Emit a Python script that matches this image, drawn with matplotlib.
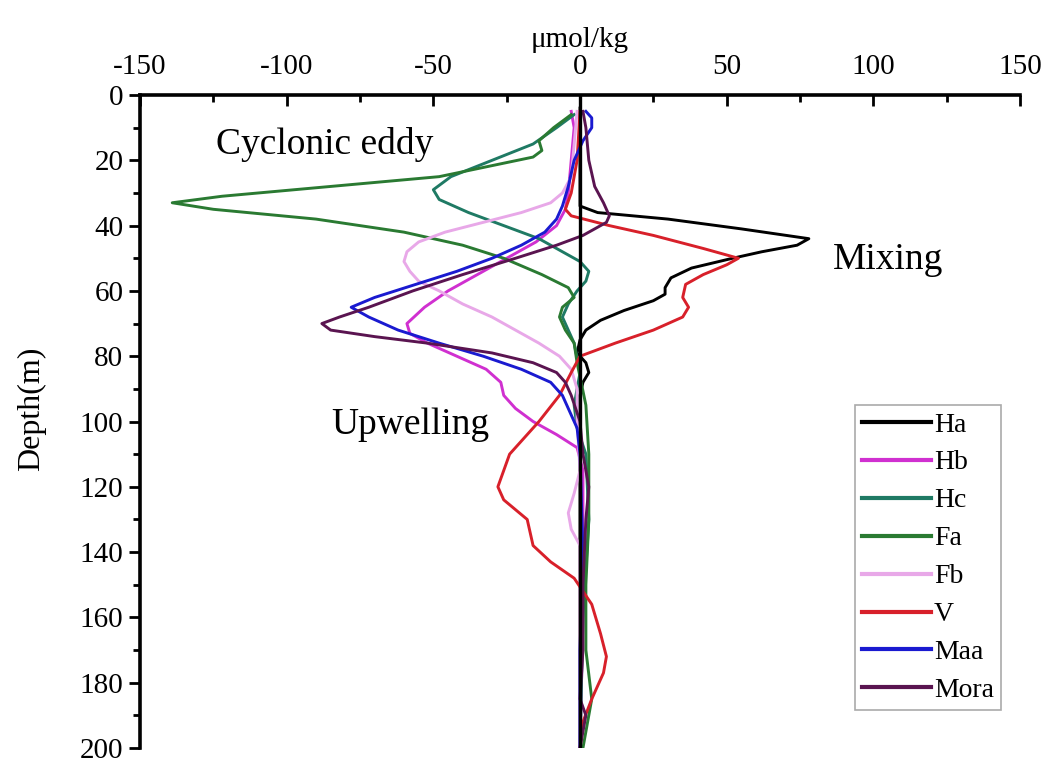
import numpy as np
import matplotlib.pyplot as plt
from matplotlib.ticker import MultipleLocator

# 深度 (m) 与各站位数值 (μmol/kg)，读图估计
ha_d = [4, 15, 25, 34, 36, 38, 41, 44, 46, 48, 50, 53, 56, 59, 61, 63, 66, 69, 72, 75, 79, 82, 85, 88, 92, 120, 160, 200]
ha_v = [0, 0, 0, 0, 6, 30, 55, 78, 74, 62, 52, 38, 31, 29, 29, 25, 15, 7, 2, 0, -1, 2, 3, 1, 0, 0, 0, 0]

hb_d = [5, 10, 20, 30, 35, 40, 45, 50, 55, 60, 65, 70, 73, 76, 80, 84, 88, 92, 96, 100, 104, 108, 115, 130, 160, 200]
hb_v = [-3, -2, -3, -4, -5, -8, -15, -25, -35, -45, -53, -59, -58, -52, -42, -32, -27, -26, -22, -16, -8, -1, 1, 1, 1, 0]

hc_d = [6, 10, 15, 20, 25, 29, 32, 36, 40, 44, 48, 51, 54, 57, 60, 64, 68, 72, 76, 85, 95, 102, 110, 130, 160, 200]
hc_v = [-2, -8, -16, -30, -44, -50, -48, -38, -26, -14, -6, 0, 3, 2, -1, -4, -6, -4, -2, 0, -2, -1, 2, 3, 1, 0]

fa_d = [6, 10, 14, 17, 19, 22, 25, 28, 31, 33, 35, 38, 42, 46, 50, 55, 59, 62, 65, 68, 72, 76, 82, 95, 110, 130, 150, 170, 185, 200]
fa_v = [-3, -9, -14, -13, -16, -32, -48, -85, -122, -139, -125, -90, -60, -40, -26, -13, -4, -2, -6, -7, -5, -2, -1, 2, 3, 3, 2, 2, 4, 1]

fb_d = [5, 15, 25, 30, 33, 36, 39, 42, 45, 48, 51, 54, 57, 60, 64, 68, 72, 76, 80, 84, 90, 100, 115, 122, 128, 133, 138, 150, 200]
fb_v = [-1, -2, -3, -6, -10, -20, -33, -46, -55, -59, -60, -58, -55, -48, -40, -30, -22, -14, -7, -3, -1, -1, 0, -2, -4, -3, 0, 0, 0]

v_d = [5, 20, 30, 35, 37, 40, 43, 47, 50, 52, 55, 58, 62, 65, 68, 72, 76, 80, 85, 92, 100, 110, 120, 124, 130, 138, 143, 148, 152, 156, 165, 172, 177, 185, 192, 200]
v_v = [0, -1, -3, -5, -3, 10, 25, 42, 54, 50, 42, 36, 35, 37, 35, 25, 12, 0, -3, -7, -14, -24, -28, -26, -18, -16, -10, -2, 1, 4, 7, 9, 8, 4, 1, 0]

maa_d = [5, 7, 10, 14, 20, 28, 34, 38, 42, 46, 50, 54, 58, 62, 65, 68, 72, 76, 80, 84, 88, 92, 96, 102, 110, 140, 170, 200]
maa_v = [2, 4, 4, 1, -2, -4, -6, -8, -12, -20, -30, -42, -56, -70, -78, -72, -62, -48, -33, -20, -10, -6, -4, -1, 0, 1, 0, 0]

mora_d = [5, 10, 20, 28, 33, 37, 39, 41, 43, 46, 50, 55, 60, 65, 68, 70, 72, 74, 76, 79, 82, 85, 88, 92, 100, 110, 120, 130, 150, 170, 185, 190, 200]
mora_v = [1, 2, 3, 5, 8, 10, 9, 5, 1, -8, -22, -40, -57, -72, -82, -88, -85, -70, -52, -30, -16, -8, -5, -3, 0, 1, 3, 2, 1, 1, 0, 2, 0]

labels = ['Ha', 'Hb', 'Hc', 'Fa', 'Fb', 'V', 'Maa', 'Mora']
colors = ['#000000', '#d030d0', '#1f7a64', '#2a7a32', '#e8a8e8', '#d8202a', '#1a1ad0', '#5a1450']
depths = [ha_d, hb_d, hc_d, fa_d, fb_d, v_d, maa_d, mora_d]
values = [ha_v, hb_v, hc_v, fa_v, fb_v, v_v, maa_v, mora_v]

plt.rcParams['font.family'] = ['Liberation Serif', 'DejaVu Serif']
plt.rcParams['axes.unicode_minus'] = False

fig = plt.figure(figsize=(10.54, 7.67), dpi=100)
ax = fig.add_axes([0.1328, 0.0248, 0.835, 0.8513])

for d, v, c, lab in zip(depths, values, colors, labels):
    ax.plot(v, d, color=c, linewidth=2.1, label=lab)

ax.axvline(0, color='black', linewidth=2.4, zorder=5)

ax.set_xlim(-150, 150)
ax.set_ylim(200, 0)

ax.spines['right'].set_visible(False)
ax.spines['bottom'].set_visible(False)
ax.spines['top'].set_linewidth(2.6)
ax.spines['left'].set_linewidth(2.6)

ax.xaxis.tick_top()
ax.xaxis.set_label_position('top')
ax.xaxis.set_major_locator(MultipleLocator(50))
ax.xaxis.set_minor_locator(MultipleLocator(25))
ax.yaxis.set_major_locator(MultipleLocator(20))
ax.yaxis.set_minor_locator(MultipleLocator(10))
ax.tick_params(axis='x', which='major', direction='in', length=8, width=2, labelsize=21, pad=11)
ax.tick_params(axis='x', which='minor', direction='in', length=5, width=2)
ax.tick_params(axis='y', which='major', direction='out', length=8, width=2, labelsize=21, pad=4)
ax.tick_params(axis='y', which='minor', direction='out', length=5, width=2)

ax.set_xlabel('μmol/kg', fontsize=21, labelpad=5)
ax.set_ylabel('Depth(m)', fontsize=23)
ax.yaxis.set_label_coords(-0.107, 0.52)

ax.text(-87, 15, 'Cyclonic eddy', fontsize=27, ha='center', va='center')
ax.text(105, 50.5, 'Mixing', fontsize=27, ha='center', va='center')
ax.text(-58, 101, 'Upwelling', fontsize=27, ha='center', va='center')

leg = ax.legend(loc='lower right', bbox_to_anchor=(0.978, 0.058), fontsize=20,
                handlelength=2.5, handletextpad=0.1, labelspacing=0.45,
                borderpad=0.25, borderaxespad=0, fancybox=False, framealpha=1)
leg.get_frame().set_edgecolor('#aaaaaa')
leg.get_frame().set_linewidth(1.2)
for line in leg.get_lines():
    line.set_linewidth(3)

fig.savefig('out.png', dpi=100)
